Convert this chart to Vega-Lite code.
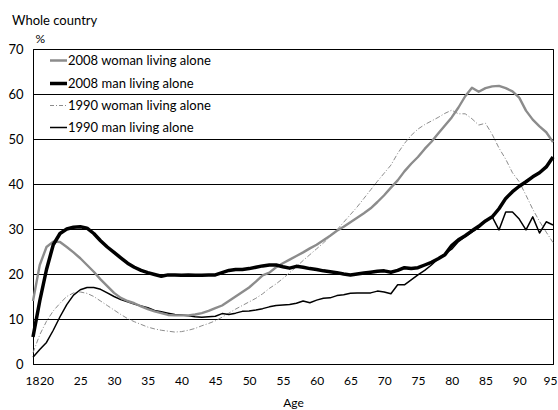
{
  "$schema": "https://vega.github.io/schema/vega-lite/v6.json",
  "width": 520,
  "height": 315,
  "autosize": {"type": "none"},
  "padding": {"left": 33, "top": 49, "right": 5, "bottom": 46},
  "background": "white",
  "config": {
    "view": {"stroke": "black", "strokeWidth": 1},
    "font": "Lato",
    "axis": {"labelFont": "Lato", "titleFont": "Lato", "labelColor": "black", "titleColor": "black"},
    "legend": {"labelFont": "Lato"}
  },
  "title": {"text": "Whole country", "anchor": "start", "frame": "group", "fontSize": 13, "fontWeight": "normal", "font": "Lato", "color": "black", "dx": -21, "offset": 4},
  "data": {"values": [
    {"age":18,"series":"2008 man living alone","pct":6},{"age":19,"series":"2008 man living alone","pct":14},{"age":20,"series":"2008 man living alone","pct":21},{"age":21,"series":"2008 man living alone","pct":26.5},{"age":22,"series":"2008 man living alone","pct":29},{"age":23,"series":"2008 man living alone","pct":30},{"age":24,"series":"2008 man living alone","pct":30.4},{"age":25,"series":"2008 man living alone","pct":30.5},{"age":26,"series":"2008 man living alone","pct":30.2},{"age":27,"series":"2008 man living alone","pct":29},{"age":28,"series":"2008 man living alone","pct":27.4},{"age":29,"series":"2008 man living alone","pct":26},{"age":30,"series":"2008 man living alone","pct":24.8},{"age":31,"series":"2008 man living alone","pct":23.6},{"age":32,"series":"2008 man living alone","pct":22.4},{"age":33,"series":"2008 man living alone","pct":21.5},{"age":34,"series":"2008 man living alone","pct":20.8},{"age":35,"series":"2008 man living alone","pct":20.3},{"age":36,"series":"2008 man living alone","pct":19.9},{"age":37,"series":"2008 man living alone","pct":19.5},{"age":38,"series":"2008 man living alone","pct":19.8},{"age":39,"series":"2008 man living alone","pct":19.8},{"age":40,"series":"2008 man living alone","pct":19.7},{"age":41,"series":"2008 man living alone","pct":19.8},{"age":42,"series":"2008 man living alone","pct":19.7},{"age":43,"series":"2008 man living alone","pct":19.7},{"age":44,"series":"2008 man living alone","pct":19.8},{"age":45,"series":"2008 man living alone","pct":19.8},{"age":46,"series":"2008 man living alone","pct":20.3},{"age":47,"series":"2008 man living alone","pct":20.8},{"age":48,"series":"2008 man living alone","pct":21},{"age":49,"series":"2008 man living alone","pct":21},{"age":50,"series":"2008 man living alone","pct":21.2},{"age":51,"series":"2008 man living alone","pct":21.5},{"age":52,"series":"2008 man living alone","pct":21.8},{"age":53,"series":"2008 man living alone","pct":22},{"age":54,"series":"2008 man living alone","pct":22},{"age":55,"series":"2008 man living alone","pct":21.6},{"age":56,"series":"2008 man living alone","pct":21.3},{"age":57,"series":"2008 man living alone","pct":21.7},{"age":58,"series":"2008 man living alone","pct":21.5},{"age":59,"series":"2008 man living alone","pct":21.2},{"age":60,"series":"2008 man living alone","pct":21},{"age":61,"series":"2008 man living alone","pct":20.7},{"age":62,"series":"2008 man living alone","pct":20.5},{"age":63,"series":"2008 man living alone","pct":20.3},{"age":64,"series":"2008 man living alone","pct":20},{"age":65,"series":"2008 man living alone","pct":19.8},{"age":66,"series":"2008 man living alone","pct":20},{"age":67,"series":"2008 man living alone","pct":20.2},{"age":68,"series":"2008 man living alone","pct":20.4},{"age":69,"series":"2008 man living alone","pct":20.6},{"age":70,"series":"2008 man living alone","pct":20.7},{"age":71,"series":"2008 man living alone","pct":20.4},{"age":72,"series":"2008 man living alone","pct":20.8},{"age":73,"series":"2008 man living alone","pct":21.4},{"age":74,"series":"2008 man living alone","pct":21.2},{"age":75,"series":"2008 man living alone","pct":21.4},{"age":76,"series":"2008 man living alone","pct":22},{"age":77,"series":"2008 man living alone","pct":22.6},{"age":78,"series":"2008 man living alone","pct":23.4},{"age":79,"series":"2008 man living alone","pct":24.3},{"age":80,"series":"2008 man living alone","pct":26.3},{"age":81,"series":"2008 man living alone","pct":27.6},{"age":82,"series":"2008 man living alone","pct":28.5},{"age":83,"series":"2008 man living alone","pct":29.6},{"age":84,"series":"2008 man living alone","pct":30.6},{"age":85,"series":"2008 man living alone","pct":31.8},{"age":86,"series":"2008 man living alone","pct":32.7},{"age":87,"series":"2008 man living alone","pct":34.5},{"age":88,"series":"2008 man living alone","pct":36.8},{"age":89,"series":"2008 man living alone","pct":38.3},{"age":90,"series":"2008 man living alone","pct":39.5},{"age":91,"series":"2008 man living alone","pct":40.5},{"age":92,"series":"2008 man living alone","pct":41.6},{"age":93,"series":"2008 man living alone","pct":42.5},{"age":94,"series":"2008 man living alone","pct":43.8},{"age":95,"series":"2008 man living alone","pct":46},

    {"age":18,"series":"1990 man living alone","pct":1.5},{"age":19,"series":"1990 man living alone","pct":3.2},{"age":20,"series":"1990 man living alone","pct":4.8},{"age":21,"series":"1990 man living alone","pct":7.5},{"age":22,"series":"1990 man living alone","pct":10.5},{"age":23,"series":"1990 man living alone","pct":13.2},{"age":24,"series":"1990 man living alone","pct":15.3},{"age":25,"series":"1990 man living alone","pct":16.5},{"age":26,"series":"1990 man living alone","pct":17},{"age":27,"series":"1990 man living alone","pct":17},{"age":28,"series":"1990 man living alone","pct":16.6},{"age":29,"series":"1990 man living alone","pct":15.8},{"age":30,"series":"1990 man living alone","pct":15},{"age":31,"series":"1990 man living alone","pct":14.3},{"age":32,"series":"1990 man living alone","pct":13.8},{"age":33,"series":"1990 man living alone","pct":13.3},{"age":34,"series":"1990 man living alone","pct":12.9},{"age":35,"series":"1990 man living alone","pct":12.5},{"age":36,"series":"1990 man living alone","pct":11.9},{"age":37,"series":"1990 man living alone","pct":11.6},{"age":38,"series":"1990 man living alone","pct":11.3},{"age":39,"series":"1990 man living alone","pct":11},{"age":40,"series":"1990 man living alone","pct":10.9},{"age":41,"series":"1990 man living alone","pct":10.7},{"age":42,"series":"1990 man living alone","pct":10.5},{"age":43,"series":"1990 man living alone","pct":10.4},{"age":44,"series":"1990 man living alone","pct":10.5},{"age":45,"series":"1990 man living alone","pct":10.6},{"age":46,"series":"1990 man living alone","pct":11.2},{"age":47,"series":"1990 man living alone","pct":11},{"age":48,"series":"1990 man living alone","pct":11.3},{"age":49,"series":"1990 man living alone","pct":11.7},{"age":50,"series":"1990 man living alone","pct":11.8},{"age":51,"series":"1990 man living alone","pct":12},{"age":52,"series":"1990 man living alone","pct":12.3},{"age":53,"series":"1990 man living alone","pct":12.7},{"age":54,"series":"1990 man living alone","pct":13},{"age":55,"series":"1990 man living alone","pct":13.1},{"age":56,"series":"1990 man living alone","pct":13.2},{"age":57,"series":"1990 man living alone","pct":13.5},{"age":58,"series":"1990 man living alone","pct":14},{"age":59,"series":"1990 man living alone","pct":13.6},{"age":60,"series":"1990 man living alone","pct":14.2},{"age":61,"series":"1990 man living alone","pct":14.6},{"age":62,"series":"1990 man living alone","pct":14.7},{"age":63,"series":"1990 man living alone","pct":15.2},{"age":64,"series":"1990 man living alone","pct":15.4},{"age":65,"series":"1990 man living alone","pct":15.7},{"age":66,"series":"1990 man living alone","pct":15.8},{"age":67,"series":"1990 man living alone","pct":15.8},{"age":68,"series":"1990 man living alone","pct":15.8},{"age":69,"series":"1990 man living alone","pct":16.2},{"age":70,"series":"1990 man living alone","pct":16},{"age":71,"series":"1990 man living alone","pct":15.6},{"age":72,"series":"1990 man living alone","pct":17.6},{"age":73,"series":"1990 man living alone","pct":17.6},{"age":74,"series":"1990 man living alone","pct":18.7},{"age":75,"series":"1990 man living alone","pct":19.8},{"age":76,"series":"1990 man living alone","pct":20.8},{"age":77,"series":"1990 man living alone","pct":22},{"age":78,"series":"1990 man living alone","pct":23.4},{"age":79,"series":"1990 man living alone","pct":24.5},{"age":80,"series":"1990 man living alone","pct":25.5},{"age":81,"series":"1990 man living alone","pct":27.2},{"age":82,"series":"1990 man living alone","pct":28.3},{"age":83,"series":"1990 man living alone","pct":29.3},{"age":84,"series":"1990 man living alone","pct":30.3},{"age":85,"series":"1990 man living alone","pct":31.8},{"age":86,"series":"1990 man living alone","pct":32.7},{"age":87,"series":"1990 man living alone","pct":29.8},{"age":88,"series":"1990 man living alone","pct":33.8},{"age":89,"series":"1990 man living alone","pct":33.8},{"age":90,"series":"1990 man living alone","pct":32.2},{"age":91,"series":"1990 man living alone","pct":29.8},{"age":92,"series":"1990 man living alone","pct":32.7},{"age":93,"series":"1990 man living alone","pct":29.1},{"age":94,"series":"1990 man living alone","pct":31.6},{"age":95,"series":"1990 man living alone","pct":30.9},

    {"age":18,"series":"2008 woman living alone","pct":14},{"age":19,"series":"2008 woman living alone","pct":22},{"age":20,"series":"2008 woman living alone","pct":26},{"age":21,"series":"2008 woman living alone","pct":27.2},{"age":22,"series":"2008 woman living alone","pct":27.1},{"age":23,"series":"2008 woman living alone","pct":26},{"age":24,"series":"2008 woman living alone","pct":24.8},{"age":25,"series":"2008 woman living alone","pct":23.5},{"age":26,"series":"2008 woman living alone","pct":22},{"age":27,"series":"2008 woman living alone","pct":20.5},{"age":28,"series":"2008 woman living alone","pct":18.8},{"age":29,"series":"2008 woman living alone","pct":17.3},{"age":30,"series":"2008 woman living alone","pct":15.8},{"age":31,"series":"2008 woman living alone","pct":14.7},{"age":32,"series":"2008 woman living alone","pct":14},{"age":33,"series":"2008 woman living alone","pct":13.5},{"age":34,"series":"2008 woman living alone","pct":12.8},{"age":35,"series":"2008 woman living alone","pct":12.2},{"age":36,"series":"2008 woman living alone","pct":11.7},{"age":37,"series":"2008 woman living alone","pct":11.3},{"age":38,"series":"2008 woman living alone","pct":10.9},{"age":39,"series":"2008 woman living alone","pct":10.8},{"age":40,"series":"2008 woman living alone","pct":10.8},{"age":41,"series":"2008 woman living alone","pct":10.8},{"age":42,"series":"2008 woman living alone","pct":11},{"age":43,"series":"2008 woman living alone","pct":11.3},{"age":44,"series":"2008 woman living alone","pct":11.8},{"age":45,"series":"2008 woman living alone","pct":12.4},{"age":46,"series":"2008 woman living alone","pct":13},{"age":47,"series":"2008 woman living alone","pct":14},{"age":48,"series":"2008 woman living alone","pct":15},{"age":49,"series":"2008 woman living alone","pct":16},{"age":50,"series":"2008 woman living alone","pct":17},{"age":51,"series":"2008 woman living alone","pct":18.3},{"age":52,"series":"2008 woman living alone","pct":19.7},{"age":53,"series":"2008 woman living alone","pct":20.3},{"age":54,"series":"2008 woman living alone","pct":21.5},{"age":55,"series":"2008 woman living alone","pct":22.4},{"age":56,"series":"2008 woman living alone","pct":23.2},{"age":57,"series":"2008 woman living alone","pct":24},{"age":58,"series":"2008 woman living alone","pct":24.8},{"age":59,"series":"2008 woman living alone","pct":25.7},{"age":60,"series":"2008 woman living alone","pct":26.5},{"age":61,"series":"2008 woman living alone","pct":27.5},{"age":62,"series":"2008 woman living alone","pct":28.5},{"age":63,"series":"2008 woman living alone","pct":29.6},{"age":64,"series":"2008 woman living alone","pct":30.5},{"age":65,"series":"2008 woman living alone","pct":31.5},{"age":66,"series":"2008 woman living alone","pct":32.5},{"age":67,"series":"2008 woman living alone","pct":33.5},{"age":68,"series":"2008 woman living alone","pct":34.6},{"age":69,"series":"2008 woman living alone","pct":36},{"age":70,"series":"2008 woman living alone","pct":37.5},{"age":71,"series":"2008 woman living alone","pct":39.2},{"age":72,"series":"2008 woman living alone","pct":40.8},{"age":73,"series":"2008 woman living alone","pct":42.8},{"age":74,"series":"2008 woman living alone","pct":44.5},{"age":75,"series":"2008 woman living alone","pct":46},{"age":76,"series":"2008 woman living alone","pct":47.8},{"age":77,"series":"2008 woman living alone","pct":49.4},{"age":78,"series":"2008 woman living alone","pct":51.2},{"age":79,"series":"2008 woman living alone","pct":53},{"age":80,"series":"2008 woman living alone","pct":54.8},{"age":81,"series":"2008 woman living alone","pct":57},{"age":82,"series":"2008 woman living alone","pct":59.5},{"age":83,"series":"2008 woman living alone","pct":61.4},{"age":84,"series":"2008 woman living alone","pct":60.5},{"age":85,"series":"2008 woman living alone","pct":61.3},{"age":86,"series":"2008 woman living alone","pct":61.7},{"age":87,"series":"2008 woman living alone","pct":61.8},{"age":88,"series":"2008 woman living alone","pct":61.3},{"age":89,"series":"2008 woman living alone","pct":60.6},{"age":90,"series":"2008 woman living alone","pct":59.2},{"age":91,"series":"2008 woman living alone","pct":56.3},{"age":92,"series":"2008 woman living alone","pct":54.3},{"age":93,"series":"2008 woman living alone","pct":52.8},{"age":94,"series":"2008 woman living alone","pct":51.5},{"age":95,"series":"2008 woman living alone","pct":49.3},

    {"age":18,"series":"1990 woman living alone","pct":2.5},{"age":19,"series":"1990 woman living alone","pct":6.5},{"age":20,"series":"1990 woman living alone","pct":9.5},{"age":21,"series":"1990 woman living alone","pct":11.8},{"age":22,"series":"1990 woman living alone","pct":13.5},{"age":23,"series":"1990 woman living alone","pct":15},{"age":24,"series":"1990 woman living alone","pct":15.8},{"age":25,"series":"1990 woman living alone","pct":16},{"age":26,"series":"1990 woman living alone","pct":15.7},{"age":27,"series":"1990 woman living alone","pct":15},{"age":28,"series":"1990 woman living alone","pct":14},{"age":29,"series":"1990 woman living alone","pct":13},{"age":30,"series":"1990 woman living alone","pct":12},{"age":31,"series":"1990 woman living alone","pct":11},{"age":32,"series":"1990 woman living alone","pct":10.1},{"age":33,"series":"1990 woman living alone","pct":9.4},{"age":34,"series":"1990 woman living alone","pct":8.8},{"age":35,"series":"1990 woman living alone","pct":8.2},{"age":36,"series":"1990 woman living alone","pct":7.8},{"age":37,"series":"1990 woman living alone","pct":7.5},{"age":38,"series":"1990 woman living alone","pct":7.3},{"age":39,"series":"1990 woman living alone","pct":7.1},{"age":40,"series":"1990 woman living alone","pct":7.2},{"age":41,"series":"1990 woman living alone","pct":7.5},{"age":42,"series":"1990 woman living alone","pct":7.9},{"age":43,"series":"1990 woman living alone","pct":8.5},{"age":44,"series":"1990 woman living alone","pct":9},{"age":45,"series":"1990 woman living alone","pct":9.6},{"age":46,"series":"1990 woman living alone","pct":10.4},{"age":47,"series":"1990 woman living alone","pct":11.3},{"age":48,"series":"1990 woman living alone","pct":12.2},{"age":49,"series":"1990 woman living alone","pct":13},{"age":50,"series":"1990 woman living alone","pct":13.8},{"age":51,"series":"1990 woman living alone","pct":14.6},{"age":52,"series":"1990 woman living alone","pct":15.6},{"age":53,"series":"1990 woman living alone","pct":16.8},{"age":54,"series":"1990 woman living alone","pct":17.8},{"age":55,"series":"1990 woman living alone","pct":19},{"age":56,"series":"1990 woman living alone","pct":20.3},{"age":57,"series":"1990 woman living alone","pct":21.6},{"age":58,"series":"1990 woman living alone","pct":23},{"age":59,"series":"1990 woman living alone","pct":24.3},{"age":60,"series":"1990 woman living alone","pct":25.6},{"age":61,"series":"1990 woman living alone","pct":26.9},{"age":62,"series":"1990 woman living alone","pct":28.3},{"age":63,"series":"1990 woman living alone","pct":29.8},{"age":64,"series":"1990 woman living alone","pct":31.5},{"age":65,"series":"1990 woman living alone","pct":33.2},{"age":66,"series":"1990 woman living alone","pct":34.9},{"age":67,"series":"1990 woman living alone","pct":36.8},{"age":68,"series":"1990 woman living alone","pct":38.7},{"age":69,"series":"1990 woman living alone","pct":40.6},{"age":70,"series":"1990 woman living alone","pct":42.4},{"age":71,"series":"1990 woman living alone","pct":44.2},{"age":72,"series":"1990 woman living alone","pct":46.8},{"age":73,"series":"1990 woman living alone","pct":49},{"age":74,"series":"1990 woman living alone","pct":50.8},{"age":75,"series":"1990 woman living alone","pct":52.2},{"age":76,"series":"1990 woman living alone","pct":53.2},{"age":77,"series":"1990 woman living alone","pct":54},{"age":78,"series":"1990 woman living alone","pct":54.8},{"age":79,"series":"1990 woman living alone","pct":55.7},{"age":80,"series":"1990 woman living alone","pct":56.4},{"age":81,"series":"1990 woman living alone","pct":55.6},{"age":82,"series":"1990 woman living alone","pct":55.6},{"age":83,"series":"1990 woman living alone","pct":54.5},{"age":84,"series":"1990 woman living alone","pct":53.1},{"age":85,"series":"1990 woman living alone","pct":53.5},{"age":86,"series":"1990 woman living alone","pct":51},{"age":87,"series":"1990 woman living alone","pct":48},{"age":88,"series":"1990 woman living alone","pct":45.5},{"age":89,"series":"1990 woman living alone","pct":42.5},{"age":90,"series":"1990 woman living alone","pct":40.5},{"age":91,"series":"1990 woman living alone","pct":37.5},{"age":92,"series":"1990 woman living alone","pct":34.4},{"age":93,"series":"1990 woman living alone","pct":31.7},{"age":94,"series":"1990 woman living alone","pct":29.3},{"age":95,"series":"1990 woman living alone","pct":27}
  ]},
  "encoding": {
    "x": {
      "field": "age", "type": "quantitative",
      "scale": {"domain": [18, 95], "nice": false, "zero": false},
      "axis": {"values": [18,20,25,30,35,40,45,50,55,60,65,70,75,80,85,90,95], "grid": false, "ticks": false, "domainColor": "black", "labelPadding": 11, "labelFontSize": 12, "labelOverlap": false, "title": "Age", "titleFontWeight": "normal", "titleFontSize": 12, "titlePadding": 11,
        "labelAlign": {"condition": [{"test": "datum.value === 18", "value": "right"}, {"test": "datum.value === 20", "value": "left"}, {"test": "datum.value === 95", "value": "right"}], "value": "center"},
        "labelOffset": {"condition": [{"test": "datum.value === 18", "value": 6}, {"test": "datum.value === 20", "value": -7}, {"test": "datum.value === 95", "value": 4}], "value": 0}}
    },
    "y": {
      "field": "pct", "type": "quantitative",
      "scale": {"domain": [0, 70], "nice": false},
      "axis": {"values": [0,10,20,30,40,50,60,70], "gridColor": "black", "gridOpacity": 1, "gridWidth": 1, "ticks": false, "domainColor": "black", "labelPadding": 10, "labelFontSize": 13, "title": "%", "titleAngle": 0, "titleX": 2, "titleY": -11, "titleAlign": "left", "titleBaseline": "middle", "titleFontWeight": "normal", "titleFontSize": 12}
    },
    "color": {
      "field": "series", "type": "nominal",
      "scale": {"domain": ["2008 woman living alone", "2008 man living alone", "1990 woman living alone", "1990 man living alone"], "range": ["#8c8c8c", "#000000", "#8c8c8c", "#000000"]},
      "legend": {
        "orient": "none", "legendX": 19, "legendY": 5, "title": null, "symbolType": "stroke", "symbolSize": 289, "labelFontSize": 13, "labelColor": "black", "rowPadding": 8, "labelOffset": 3,
        "encode": {"symbols": {"update": {
          "strokeWidth": {"signal": "datum.value === '2008 man living alone' ? 3.5 : datum.value === '2008 woman living alone' ? 2.4 : datum.value === '1990 man living alone' ? 1.5 : 1"},
          "strokeDash": {"signal": "datum.value === '1990 woman living alone' ? [4,2,1,2] : [1,0]"}
        }}}
      }
    }
  },
  "layer": [
    {"transform": [{"filter": "datum.series === '1990 woman living alone'"}], "mark": {"type": "line", "strokeWidth": 1, "strokeDash": [5, 2, 1, 2], "strokeJoin": "round"}},
    {"transform": [{"filter": "datum.series === '1990 man living alone'"}], "mark": {"type": "line", "strokeWidth": 1.5, "strokeJoin": "round"}},
    {"transform": [{"filter": "datum.series === '2008 woman living alone'"}], "mark": {"type": "line", "strokeWidth": 2.4, "strokeJoin": "round"}},
    {"transform": [{"filter": "datum.series === '2008 man living alone'"}], "mark": {"type": "line", "strokeWidth": 3.5, "strokeJoin": "round"}}
  ]
}
